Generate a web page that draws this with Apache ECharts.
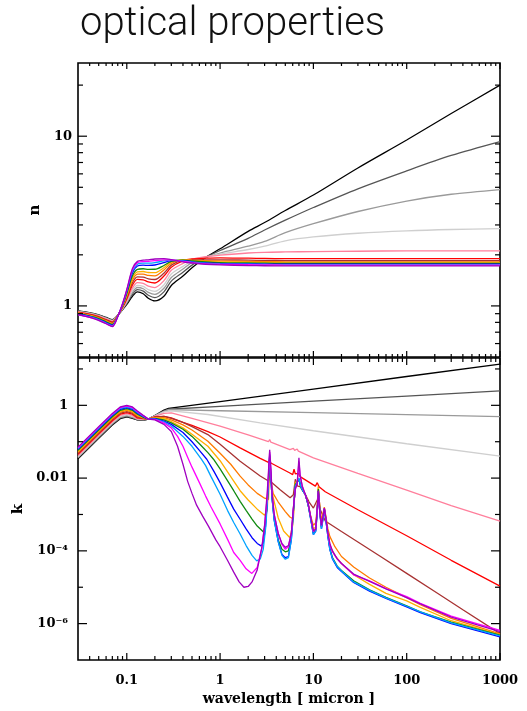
<!DOCTYPE html>
<html><head><meta charset="utf-8">
<script src="https://cdn.jsdelivr.net/npm/echarts@6.0.0/dist/echarts.min.js"></script>
<style>html,body{margin:0;padding:0;background:#fff;}#c{width:527px;height:711px;}</style>
</head><body><div id="c"></div>
<script>
// ---------- series identity ----------
const seriesNames  = ['black','darkgrey','grey','lightgrey','pink','red','brown','orange','gold','green','blue','skyblue','magenta','purple'];
const seriesColors = ['#000000','#555555','#9a9a9a','#cfcfcf','#ff7f9c','#ff0000','#a83232','#ff7a00','#ffb000','#108a10','#0000ff','#00a2ff','#ff00ff','#a000c0'];

// ---------- refractive index n (top panel) ----------
const nWavelength = [0.03,0.045,0.06,0.07,0.08,0.09,0.1,0.115,0.13,0.15,0.17,0.2,0.25,0.3,0.4,0.5,0.7,1,2,3,5,10,30,100,300,1000];
const nBlack     = [.935,.900,.855,.830,.880,.950,1.020,1.140,1.210,1.180,1.110,1.070,1.140,1.320,1.500,1.680,1.930,2.170,2.750,3.100,3.650,4.500,6.500,9.500,13.60,20.00];
const nDarkgrey  = [.932,.896,.851,.826,.880,.955,1.034,1.171,1.247,1.221,1.156,1.119,1.210,1.400,1.580,1.740,1.930,2.120,2.500,2.800,3.200,3.800,4.900,6.250,7.700,9.300];
const nGrey      = [.929,.893,.847,.821,.880,.960,1.048,1.202,1.284,1.262,1.201,1.168,1.270,1.470,1.650,1.800,1.930,2.050,2.250,2.400,2.700,3.050,3.600,4.150,4.550,4.850];
const nLightgrey = [.927,.889,.842,.817,.880,.964,1.061,1.234,1.322,1.302,1.247,1.218,1.330,1.540,1.710,1.840,1.940,2.020,2.150,2.250,2.420,2.550,2.680,2.770,2.820,2.850];
const nPink      = [.923,.884,.837,.811,.880,.971,1.080,1.275,1.371,1.357,1.308,1.283,1.410,1.620,1.780,1.880,1.950,1.990,2.050,2.070,2.080,2.090,2.100,2.110,2.110,2.110];
const nRed       = [.918,.878,.830,.803,.880,.979,1.103,1.327,1.433,1.425,1.384,1.365,1.500,1.690,1.840,1.890,1.910,1.920,1.910,1.905,1.900,1.900,1.900,1.900,1.900,1.900];
const nBrown     = [.914,.874,.824,.797,.878,.985,1.121,1.369,1.483,1.479,1.444,1.431,1.560,1.740,1.860,1.870,1.870,1.870,1.860,1.855,1.850,1.850,1.850,1.850,1.850,1.850];
const nOrange    = [.910,.868,.818,.790,.876,.992,1.142,1.416,1.539,1.540,1.513,1.505,1.630,1.780,1.870,1.860,1.850,1.840,1.830,1.825,1.820,1.820,1.820,1.820,1.820,1.820];
const nGold      = [.906,.863,.812,.784,.874,.999,1.160,1.457,1.588,1.595,1.574,1.570,1.680,1.810,1.870,1.850,1.830,1.820,1.810,1.805,1.800,1.800,1.800,1.800,1.800,1.800];
const nGreen     = [.902,.858,.806,.778,.872,1.006,1.181,1.504,1.644,1.656,1.642,1.644,1.730,1.830,1.860,1.840,1.820,1.800,1.790,1.785,1.780,1.780,1.780,1.780,1.780,1.780];
const nBlue      = [.896,.851,.798,.769,.870,1.016,1.209,1.566,1.718,1.738,1.733,1.742,1.800,1.850,1.850,1.820,1.790,1.780,1.770,1.765,1.760,1.760,1.760,1.760,1.760,1.760];
const nSkyblue   = [.893,.847,.793,.763,.868,1.021,1.225,1.603,1.762,1.785,1.786,1.800,1.840,1.860,1.840,1.810,1.780,1.770,1.760,1.755,1.750,1.750,1.750,1.750,1.750,1.750];
const nMagenta   = [.890,.843,.788,.759,.866,1.026,1.239,1.634,1.799,1.826,1.832,1.849,1.870,1.870,1.830,1.800,1.770,1.760,1.750,1.745,1.740,1.740,1.740,1.740,1.740,1.740];
const nPurple    = [.888,.840,.785,.755,.864,1.030,1.250,1.660,1.830,1.860,1.870,1.890,1.900,1.875,1.820,1.790,1.760,1.745,1.730,1.725,1.720,1.720,1.720,1.720,1.720,1.720];

// ---------- absorption k (bottom panel), [wavelength, k] ----------
const kBlack = [[0.03,.034],[0.05,.125],[0.07,.287],[0.085,.43],[0.1,.479],[0.115,.44],[0.13,.40],[0.15,.385],[0.17,.42],[0.2,.52],[0.25,.74],[0.28,.82],[1,1.27],[10,2.8],[100,6.2],[1000,13.6]];
const kDarkgrey = [[0.03,.036],[0.05,.130],[0.07,.301],[0.085,.45],[0.1,.501],[0.115,.45],[0.13,.40],[0.15,.39],[0.17,.42],[0.2,.52],[0.25,.70],[0.28,.78],[1,.94],[10,1.30],[100,1.80],[1000,2.5]];
const kGrey = [[0.03,.037],[0.05,.137],[0.07,.315],[0.085,.47],[0.1,.525],[0.115,.47],[0.13,.41],[0.15,.40],[0.17,.42],[0.2,.52],[0.25,.68],[0.28,.76],[1,.71],[10,.63],[100,.555],[1000,.49]];
const kLightgrey = [[0.03,.039],[0.05,.145],[0.07,.334],[0.085,.50],[0.1,.556],[0.115,.50],[0.13,.42],[0.15,.41],[0.17,.42],[0.2,.51],[0.25,.66],[0.3,.70],[0.74,.56],[2.69,.33],[10,.20],[100,.088],[1000,.04]];
const kPink = [[0.03,.042],[0.05,.153],[0.07,.353],[0.085,.53],[0.1,.589],[0.115,.53],[0.13,.43],[0.15,.42],[0.17,.42],[0.2,.50],[0.25,.60],[0.3,.62],[0.5,.44],[1,.27],[2,.155],[3.3,.10],[3.4,.115],[3.5,.097],[5.6,.061],[6.1,.066],[6.3,.058],[6.7,.063],[6.9,.055],[10,.036],[30,.0135],[100,.0047],[300,.00175],[1000,.00066]];
const kRed = [[0.03,.045],[0.05,.164],[0.07,.379],[0.085,.57],[0.1,.631],[0.115,.57],[0.13,.45],[0.15,.43],[0.17,.42],[0.2,.48],[0.25,.50],[0.3,.45],[0.4,.34],[0.5,.28],[0.74,.19],[1,.135],[1.64,.068],[2.69,.035],[3.3,.027],[3.4,.032],[3.5,.026],[5.6,.0138],[6.0,.0125],[6.2,.0175],[6.4,.013],[6.9,.0135],[7.2,.011],[10.5,.0060],[11.0,.0075],[11.5,.0058],[13.4,.0042],[30,.00135],[100,.00026],[300,.000055],[1000,.0000107]];
const kBrown = [[0.03,.048],[0.05,.176],[0.07,.406],[0.085,.61],[0.1,.676],[0.115,.61],[0.13,.48],[0.15,.44],[0.17,.42],[0.2,.47],[0.25,.50],[0.3,.44],[0.4,.34],[0.5,.26],[0.74,.157],[1,.085],[1.64,.029],[2.69,.0114],[3.3,.0083],[3.4,.013],[3.5,.0079],[4.4,.0048],[5.63,.0029],[6.1,.0035],[6.4,.0093],[6.8,.006],[7.2,.0058],[8,.004],[9,.0022],[10,.0015],[11.0,.0025],[11.4,.0035],[11.8,.0014],[13.4,.00066],[20,.00034],[30,.000175],[50,.000076],[100,.000024],[200,.0000076],[400,.0000024],[1000,.00000053]];
const kOrange = [[0.03,.051],[0.05,.188],[0.07,.434],[0.085,.65],[0.1,.724],[0.115,.65],[0.13,.51],[0.15,.45],[0.17,.42],[0.2,.46],[0.25,.46],[0.3,.40],[0.4,.29],[0.5,.21],[0.74,.103],[1,.048],[1.3,.024],[1.64,.0113],[2.0,.0065],[2.5,.0038],[3.0,.0028],[3.3,.0026],[3.4,.035],[3.5,.009],[3.7,.0038],[4.2,.0022],[5.0,.0012],[5.6,.00085],[6.1,.00075],[6.4,.0075],[6.7,.007],[7.0,.009],[7.3,.006],[7.7,.0045],[8.2,.0036],[8.8,.0019],[9.4,.00085],[10.0,.0005],[10.6,.0006],[11.0,.0016],[11.3,.006],[11.7,.0016],[12.2,.0007],[12.8,.0012],[13.1,.0016],[13.6,.0009],[14.3,.0004],[15,.00025],[17,.00013],[20,.00007],[27,.000036],[40,.000018],[60,.00001],[100,.0000052],[140,.0000033],[300,.0000014],[1000,.00000052]];
const kGold = [[0.03,.054],[0.05,.199],[0.07,.46],[0.085,.69],[0.1,.767],[0.115,.69],[0.13,.54],[0.15,.46],[0.17,.42],[0.2,.45],[0.25,.43],[0.3,.36],[0.4,.24],[0.5,.16],[0.74,.075],[1,.03],[1.3,.011],[1.64,.0045],[2.0,.0025],[2.5,.0014],[3.0,.00095],[3.2,.0013],[3.3,.006],[3.4,.038],[3.5,.01],[3.7,.003],[4.2,.0008],[4.8,.00035],[5.6,.00023],[6.0,.0005],[6.4,.0075],[6.7,.0068],[7.0,.009],[7.3,.006],[7.7,.0045],[8.2,.0035],[8.8,.0018],[9.4,.0008],[10.0,.0004],[10.6,.00045],[11.0,.0014],[11.3,.0055],[11.7,.0014],[12.2,.0005],[12.8,.001],[13.1,.0015],[13.6,.0008],[14.3,.0003],[15,.00014],[17,.000075],[20,.000045],[27,.000022],[40,.000012],[60,.0000068],[100,.0000042],[140,.0000028],[300,.0000012],[1000,.0000005]];
const kGreen = [[0.03,.058],[0.05,.211],[0.07,.488],[0.085,.73],[0.1,.813],[0.115,.73],[0.13,.57],[0.15,.47],[0.17,.42],[0.2,.44],[0.25,.40],[0.3,.33],[0.4,.22],[0.5,.14],[0.6,.088],[0.74,.05],[0.85,.033],[1,.018],[1.2,.0085],[1.4,.0045],[1.64,.0023],[1.9,.0013],[2.2,.00075],[2.5,.00048],[2.92,.00033],[3.05,.0005],[3.2,.002],[3.3,.008],[3.4,.04],[3.5,.011],[3.6,.003],[3.8,.0008],[4.2,.0002],[4.6,.00011],[5.0,.000094],[5.4,.0001],[5.8,.00025],[6.1,.0013],[6.4,.0065],[6.7,.0065],[7.0,.0095],[7.3,.006],[7.7,.0045],[8.2,.0035],[8.8,.0018],[9.4,.00075],[10.0,.0003],[10.6,.00038],[11.0,.0013],[11.3,.005],[11.7,.0013],[12.2,.00045],[12.8,.00095],[13.1,.0014],[13.6,.00075],[14.3,.00028],[15,.00012],[16,.000065],[18,.000038],[20,.000029],[27,.000015],[40,.0000085],[60,.0000053],[100,.0000031],[140,.0000021],[300,.0000011],[1000,.00000048]];
const kBlue = [[0.03,.062],[0.05,.226],[0.07,.523],[0.085,.78],[0.1,.871],[0.115,.78],[0.13,.61],[0.15,.49],[0.17,.42],[0.2,.43],[0.25,.37],[0.3,.30],[0.4,.18],[0.5,.10],[0.6,.058],[0.72,.033],[0.85,.016],[1,.0075],[1.2,.003],[1.4,.0014],[1.64,.00074],[1.9,.0004],[2.2,.00023],[2.5,.00016],[2.75,.000137],[2.9,.00016],[3.05,.0004],[3.2,.002],[3.3,.008],[3.4,.042],[3.5,.011],[3.6,.003],[3.8,.0007],[4.2,.00018],[4.6,.00008],[5.0,.000065],[5.4,.00007],[5.8,.0002],[6.1,.0012],[6.4,.006],[6.7,.0065],[7.0,.0095],[7.3,.006],[7.7,.0045],[8.2,.0035],[8.8,.0018],[9.4,.0007],[10.0,.00028],[10.6,.00035],[11.0,.0012],[11.3,.0045],[11.7,.0012],[12.2,.0004],[12.8,.0009],[13.1,.0014],[13.6,.0007],[14.3,.00025],[15,.00011],[16,.00006],[18,.000035],[20,.000027],[27,.0000135],[40,.0000078],[60,.0000049],[100,.0000029],[140,.000002],[300,.000001],[1000,.00000043]];
const kSkyblue = [[0.03,.065],[0.05,.237],[0.07,.547],[0.085,.82],[0.1,.912],[0.115,.82],[0.13,.64],[0.15,.50],[0.17,.42],[0.2,.42],[0.25,.35],[0.3,.27],[0.4,.14],[0.5,.075],[0.63,.033],[0.7,.022],[0.8,.011],[1,.0036],[1.2,.0013],[1.4,.0006],[1.64,.00029],[1.9,.00014],[2.2,.000075],[2.47,.000053],[2.7,.00006],[2.9,.00011],[3.1,.0005],[3.25,.004],[3.4,.045],[3.5,.012],[3.6,.003],[3.8,.0007],[4.2,.00018],[4.6,.000075],[5.0,.000059],[5.4,.000065],[5.8,.0002],[6.1,.0012],[6.4,.006],[6.7,.0065],[7.0,.01],[7.3,.006],[7.7,.0045],[8.2,.0035],[8.8,.0018],[9.4,.0007],[10.0,.00028],[10.6,.00035],[11.0,.0012],[11.3,.0042],[11.7,.0012],[12.2,.0004],[12.8,.0009],[13.1,.0014],[13.6,.0007],[14.3,.00025],[15,.00011],[16,.000062],[18,.000037],[20,.000028],[27,.000014],[40,.0000082],[60,.0000051],[100,.000003],[140,.0000021],[300,.00000105],[1000,.00000046]];
const kMagenta = [[0.03,.068],[0.05,.248],[0.07,.573],[0.085,.86],[0.1,.955],[0.115,.86],[0.13,.67],[0.15,.52],[0.17,.42],[0.2,.41],[0.25,.33],[0.3,.24],[0.35,.14],[0.4,.075],[0.45,.037],[0.5,.02],[0.6,.0075],[0.7,.0032],[0.8,.0016],[1,.00055],[1.2,.00021],[1.4,.00009],[1.64,.000055],[1.9,.000032],[2.19,.000024],[2.5,.000035],[2.8,.00012],[3.0,.0005],[3.2,.003],[3.3,.012],[3.4,.052],[3.5,.015],[3.6,.004],[3.8,.001],[4.2,.0003],[4.6,.00015],[5.0,.00011],[5.4,.00013],[5.8,.0003],[6.1,.0015],[6.4,.005],[6.7,.007],[7.0,.028],[7.2,.012],[7.6,.006],[8.2,.0035],[8.8,.002],[9.4,.0008],[10.0,.00034],[10.6,.0004],[11.0,.0014],[11.3,.0043],[11.7,.0012],[12.2,.0005],[12.8,.001],[13.1,.0015],[13.6,.0008],[14.3,.0003],[15,.00015],[16,.000095],[18,.00006],[20,.000045],[27,.000022],[40,.000015],[60,.0000092],[100,.0000055],[140,.0000036],[300,.0000016],[1000,.00000065]];
const kPurple = [[0.03,.071],[0.05,.26],[0.07,.60],[0.085,.90],[0.1,1.0],[0.115,.90],[0.13,.70],[0.15,.53],[0.17,.42],[0.2,.40],[0.25,.30],[0.3,.19],[0.35,.075],[0.4,.024],[0.45,.008],[0.5,.0038],[0.56,.0018],[0.65,.0009],[0.75,.00048],[0.9,.0002],[1.0,.00013],[1.2,.000055],[1.4,.000026],[1.6,.000014],[1.8,.00001],[2.0,.0000105],[2.2,.000014],[2.5,.00003],[2.8,.00012],[3.0,.0005],[3.2,.004],[3.3,.015],[3.4,.06],[3.5,.02],[3.6,.004],[3.8,.001],[4.2,.0003],[4.6,.00016],[5.0,.000125],[5.4,.00014],[5.8,.0003],[6.1,.0015],[6.4,.005],[6.7,.007],[7.0,.036],[7.2,.012],[7.6,.006],[8.2,.0035],[8.8,.002],[9.4,.0008],[10.0,.00035],[10.6,.0004],[11.0,.0015],[11.3,.0045],[11.7,.0012],[12.2,.0005],[12.8,.001],[13.1,.0015],[13.6,.0008],[14.3,.0003],[15,.00016],[16,.0001],[18,.00006],[20,.000045],[27,.000023],[40,.0000145],[60,.000009],[100,.0000052],[140,.0000035],[300,.0000015],[1000,.0000006]];

// ---------- ticks ----------
const xMajorTicks = [0.1,1,10,100,1000];
const xMinorTicks = [0.04,0.05,0.06,0.07,0.08,0.09,0.2,0.3,0.4,0.5,0.6,0.7,0.8,0.9,2,3,4,5,6,7,8,9,20,30,40,50,60,70,80,90,200,300,400,500,600,700,800,900];
const nMajorTicks = [1,10];
const nMinorTicks = [0.6,0.7,0.8,0.9,2,3,4,5,6,7,8,9,20];
const kMajorTicks = [1,0.01,1e-4,1e-6];
const kMinorTicks = [10,0.1,1e-3,1e-5];

const nSeries = [nBlack,nDarkgrey,nGrey,nLightgrey,nPink,nRed,nBrown,nOrange,nGold,nGreen,nBlue,nSkyblue,nMagenta,nPurple];
const kSeries = [kBlack,kDarkgrey,kGrey,kLightgrey,kPink,kRed,kBrown,kOrange,kGold,kGreen,kBlue,kSkyblue,kMagenta,kPurple];

const LABEL_FONT = 'DejaVu Serif';
const chart = echarts.init(document.getElementById('c'), null, {renderer:'canvas'});

function xTicks(gi, values, len){
  return {type:'custom', xAxisIndex:gi, yAxisIndex:gi, clip:false, silent:true, z:10,
    data: values.map(v=>[v,1,len]),
    renderItem:(params, api)=>{
      const x = api.coord([api.value(0), api.value(1)])[0];
      const cs = params.coordSys; const L = api.value(2);
      return {type:'group', children:[
        {type:'line', shape:{x1:x,y1:cs.y,x2:x,y2:cs.y+L}, style:{stroke:'#000',lineWidth:1.2}},
        {type:'line', shape:{x1:x,y1:cs.y+cs.height,x2:x,y2:cs.y+cs.height-L}, style:{stroke:'#000',lineWidth:1.2}}
      ]};
    }};
}
function yTicks(gi, values, len){
  return {type:'custom', xAxisIndex:gi, yAxisIndex:gi, clip:false, silent:true, z:10,
    data: values.map(v=>[1,v,len]),
    renderItem:(params, api)=>{
      const y = api.coord([api.value(0), api.value(1)])[1];
      const cs = params.coordSys; const L = api.value(2);
      return {type:'group', children:[
        {type:'line', shape:{x1:cs.x,y1:y,x2:cs.x+L,y2:y}, style:{stroke:'#000',lineWidth:1.2}},
        {type:'line', shape:{x1:cs.x+cs.width,y1:y,x2:cs.x+cs.width-L,y2:y}, style:{stroke:'#000',lineWidth:1.2}}
      ]};
    }};
}
function isDecade(v){ const l=Math.log10(v); return Math.abs(l-Math.round(l))<1e-6; }
const sup = {'-':'\u207B','0':'\u2070','1':'\u00B9','2':'\u00B2','3':'\u00B3','4':'\u2074','5':'\u2075','6':'\u2076','7':'\u2077','8':'\u2078','9':'\u2079'};
function xLabel(v){ if(!isDecade(v)) return ''; const e=Math.round(Math.log10(v)); if(e<-1) return ''; return String(Number(Math.pow(10,e).toPrecision(6))); }
function nLabel(v){ if(!isDecade(v)) return ''; const e=Math.round(Math.log10(v)); return (e===0)?'1':(e===1?'10':''); }
function kLabel(v){ if(!isDecade(v)) return ''; const e=Math.round(Math.log10(v)); if(e%2!==0||e>0) return ''; if(e===0) return '1'; if(e===-2) return '0.01'; return '10'+String(e).split('').map(c=>sup[c]).join(''); }

const series = [];
nSeries.forEach((arr,i)=>{
  series.push({type:'line', name:seriesNames[i], xAxisIndex:0, yAxisIndex:0, showSymbol:false, symbol:'none',
    data: nWavelength.map((w,j)=>[w,arr[j]]), lineStyle:{color:seriesColors[i], width:1.3}, itemStyle:{color:seriesColors[i]},
    smooth:0.3, z:2});
});
kSeries.forEach((arr,i)=>{
  series.push({type:'line', name:seriesNames[i]+'_k', xAxisIndex:1, yAxisIndex:1, showSymbol:false, symbol:'none',
    data: arr, lineStyle:{color:seriesColors[i], width:1.3}, itemStyle:{color:seriesColors[i]},
    smooth:false, z:2});
});
series.push(xTicks(0,xMajorTicks,6), xTicks(0,xMinorTicks,3), yTicks(0,nMajorTicks,9), yTicks(0,nMinorTicks,5));
series.push(xTicks(1,xMajorTicks,7), xTicks(1,xMinorTicks,4), yTicks(1,kMajorTicks,9), yTicks(1,kMinorTicks,5));

const baseX = {type:'log', logBase:10, min:0.03, max:1000, axisLine:{show:false}, axisTick:{show:false}, splitLine:{show:false}};
chart.setOption({
  animation:false,
  backgroundColor:'#fff',
  title:{text:'optical properties', left:75, top:0, textStyle:{fontFamily:'Roboto', fontWeight:300, fontSize:40, color:'#111'}},
  grid:[
    {left:78, top:63, width:422, height:294, show:true, borderColor:'#000', borderWidth:1.6, backgroundColor:'transparent'},
    {left:78, top:358, width:422, height:302, show:true, borderColor:'#000', borderWidth:1.6, backgroundColor:'transparent'}
  ],
  xAxis:[
    Object.assign({}, baseX, {gridIndex:0, axisLabel:{show:false}}),
    Object.assign({}, baseX, {gridIndex:1, axisLabel:{show:true, formatter:xLabel, margin:14, fontFamily:LABEL_FONT, fontWeight:'bold', fontSize:13, color:'#000', showMinLabel:false},
      name:'wavelength [ micron ]', nameLocation:'middle', nameGap:32, nameTextStyle:{fontFamily:LABEL_FONT, fontWeight:'bold', fontSize:14, color:'#000'}})
  ],
  yAxis:[
    {type:'log', logBase:10, gridIndex:0, min:0.5, max:27, axisLine:{show:false}, axisTick:{show:false}, splitLine:{show:false},
      axisLabel:{formatter:nLabel, margin:6, fontFamily:LABEL_FONT, fontWeight:'bold', fontSize:13, color:'#000'},
      name:'n', nameLocation:'middle', nameGap:34, nameTextStyle:{fontFamily:LABEL_FONT, fontWeight:'bold', fontSize:15, color:'#000'}},
    {type:'log', logBase:10, gridIndex:1, min:1e-7, max:20, axisLine:{show:false}, axisTick:{show:false}, splitLine:{show:false},
      axisLabel:{formatter:kLabel, margin:10, fontFamily:LABEL_FONT, fontWeight:'bold', fontSize:13, color:'#000'},
      name:'k', nameLocation:'middle', nameGap:50, nameTextStyle:{fontFamily:LABEL_FONT, fontWeight:'bold', fontSize:15, color:'#000'}}
  ],
  series: series
});
</script></body></html>
